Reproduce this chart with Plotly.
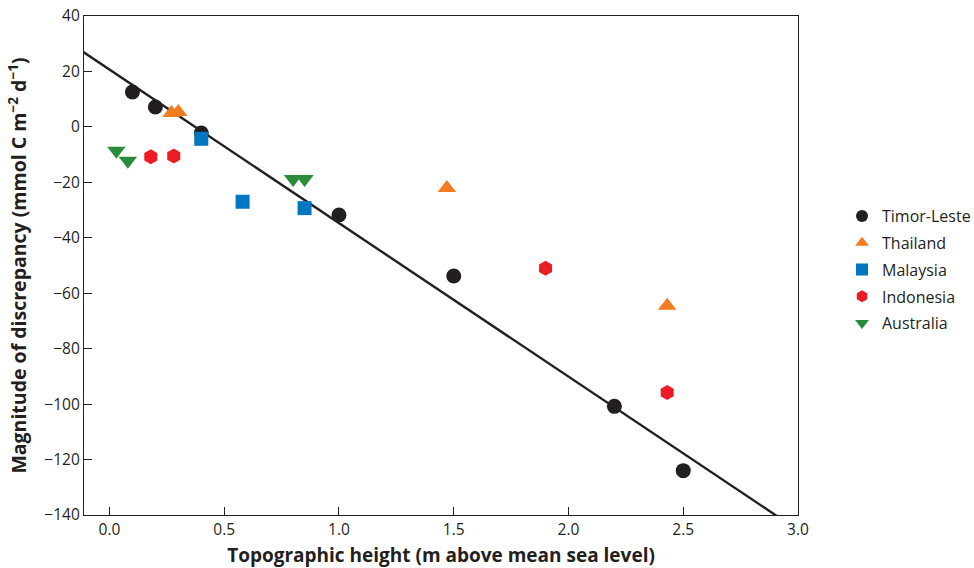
import numpy as np
import plotly.graph_objects as go

# Data
timor_x = [0.1, 0.2, 0.4, 1.0, 1.5, 2.2, 2.5]
timor_y = [12.6, 7.2, -2.2, -31.8, -53.8, -100.8, -124.0]
thai_x = [0.27, 0.30, 1.47, 2.43]
thai_y = [5.0, 5.4, -22.0, -64.5]
malay_x = [0.40, 0.58, 0.85]
malay_y = [-4.3, -27.0, -29.3]
indo_x = [0.18, 0.28, 1.90, 2.43]
indo_y = [-10.8, -10.5, -51.0, -95.8]
aus_x = [0.03, 0.08, 0.80, 0.85]
aus_y = [-8.6, -12.2, -18.8, -18.8]

x_ticks = [0.0, 0.5, 1.0, 1.5, 2.0, 2.5, 3.0]
y_ticks = [40, 20, 0, -20, -40, -60, -80, -100, -120, -140]

# Regression line fitted to Timor-Leste points
slope, intercept = np.polyfit(timor_x, timor_y, 1)
line_x = np.array([-0.2, 3.1])
line_y = intercept + slope * line_x

FONT = "Open Sans"
TXT = "#231f20"

fig = go.Figure()
fig.add_trace(go.Scatter(x=line_x, y=line_y, mode="lines",
                         line=dict(color="#231f20", width=2.4),
                         showlegend=False, hoverinfo="skip"))

series = [
    ("Timor-Leste", timor_x, timor_y, "circle", "#231f20", 15),
    ("Thailand", thai_x, thai_y, "triangle-up", "#f47b20", 16),
    ("Malaysia", malay_x, malay_y, "square", "#0077c0", 14),
    ("Indonesia", indo_x, indo_y, "hexagon", "#ed1c24", 15),
    ("Australia", aus_x, aus_y, "triangle-down", "#2a8c3a", 16),
]
for name, xs, ys, sym, col, sz in series:
    fig.add_trace(go.Scatter(x=xs, y=ys, mode="markers", name=name,
                             legendgroup=name,
                             marker=dict(symbol=sym, color=col, size=sz,
                                         line=dict(width=0))))

axis_common = dict(showgrid=False, zeroline=False, showline=True,
                   linecolor="#231f20", linewidth=1.2, mirror=True,
                   ticks="inside", ticklen=8, tickwidth=1.2, tickcolor="#231f20",
                   automargin=False,
                   tickfont=dict(family=FONT, size=15.5, color=TXT))

fig.update_layout(
    width=974, height=568,
    margin=dict(l=84, r=176, t=16, b=53),
    paper_bgcolor="white", plot_bgcolor="white",
    font=dict(family=FONT, color=TXT),
    xaxis=dict(range=[-0.111, 3.0], tickvals=x_ticks,
               ticktext=[f"{v:.1f}" for v in x_ticks],
               title=dict(text="<b>Topographic height (m above mean sea level)</b>",
                          font=dict(family=FONT, size=19, color=TXT), standoff=10),
               **axis_common),
    yaxis=dict(range=[-140, 40], tickvals=y_ticks,
               ticktext=[str(v).replace("-", "\u2212") for v in y_ticks],
               title=dict(text="<b>Magnitude of discrepancy (mmol C m<sup>\u22122</sup> d<sup>\u22121</sup>)</b>",
                          font=dict(family=FONT, size=19.5, color=TXT), standoff=12),
               **axis_common),
    legend=dict(xref="container", x=842 / 974, y=0.492, xanchor="left", yanchor="middle",
                font=dict(family=FONT, size=16, color=TXT),
                itemsizing="constant", tracegroupgap=3, bgcolor="rgba(0,0,0,0)"),
)
fig.write_html("out.html", config={"displayModeBar": False},
               post_script="document.body.style.margin='0';document.body.style.overflow='hidden';")
